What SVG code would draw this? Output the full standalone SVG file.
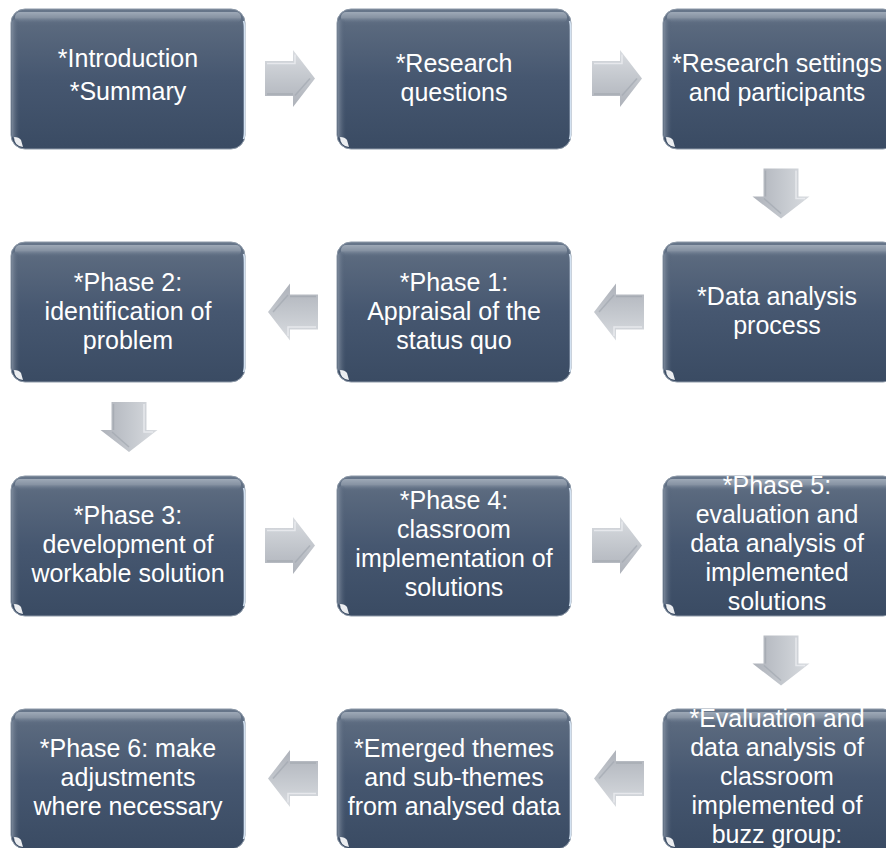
<svg xmlns="http://www.w3.org/2000/svg" xmlns:xlink="http://www.w3.org/1999/xlink" width="886" height="848" viewBox="0 0 886 848">
<defs>
<linearGradient id="boxGrad" x1="0" y1="0" x2="0" y2="1">
<stop offset="0" stop-color="#68778b"/>
<stop offset="0.12" stop-color="#5a697e"/>
<stop offset="0.5" stop-color="#465770"/>
<stop offset="1" stop-color="#3a4b63"/>
</linearGradient>
<linearGradient id="bevelTop" x1="0" y1="0" x2="0" y2="1">
<stop offset="0" stop-color="#9ea9b7"/>
<stop offset="0.5" stop-color="#8793a3"/>
<stop offset="1" stop-color="#66758a" stop-opacity="0"/>
</linearGradient>
<linearGradient id="bevelLeft" x1="0" y1="0" x2="1" y2="0">
<stop offset="0" stop-color="#7d8a9c" stop-opacity="0.9"/>
<stop offset="1" stop-color="#4d5d74" stop-opacity="0"/>
</linearGradient>
<linearGradient id="arrowGrad" gradientUnits="userSpaceOnUse" x1="0" y1="-28" x2="0" y2="28">
<stop offset="0" stop-color="#d9dce0"/>
<stop offset="0.5" stop-color="#c3c7cd"/>
<stop offset="1" stop-color="#aeb2ba"/>
</linearGradient>
<g id="box">
<rect x="0" y="0" width="234" height="140" rx="14" ry="14" fill="url(#boxGrad)" stroke="#8d99a8" stroke-width="1"/>
<rect x="4" y="3" width="226" height="11" rx="5" fill="url(#bevelTop)"/>
<rect x="1" y="10" width="8" height="120" rx="4" fill="url(#bevelLeft)"/>
<path d="M232.5,12 Q233.5,14 233.5,20 V122 Q233.5,128 232.5,130" fill="none" stroke="#d3e2f2" stroke-width="1.6"/>
<path d="M3,128 Q3,137 12,138 L10,131 Q8,128 3,128 Z" fill="#ffffff" opacity="0.9"/>
</g>
<g id="arrow">
<path d="M-25,-17.5 H3 V-28.5 L25,0 L3,28.5 V17.5 H-25 Z" fill="url(#arrowGrad)"/>
<path d="M-23,-15 H5 V-24" fill="none" stroke="#eceef1" stroke-width="1.5" opacity="0.8"/>
<path d="M5,17 L20,0" fill="none" stroke="#a3a8b1" stroke-width="1.5" opacity="0.7"/>
<path d="M-23,15.5 H3" fill="none" stroke="#a0a5ae" stroke-width="1.5" opacity="0.7"/>
</g>
</defs>
<style>
text { font-family: "Liberation Sans", Arial, sans-serif; font-size: 25px; fill: #ffffff; text-anchor: middle; }
</style>
<rect width="886" height="848" fill="#ffffff"/>

<g id="connectors">
<use xlink:href="#arrow" href="#arrow" transform="translate(290,78.5)"/>
<use xlink:href="#arrow" href="#arrow" transform="translate(617,78.5)"/>
<use xlink:href="#arrow" href="#arrow" transform="translate(781,193.5) rotate(90)"/>
<use xlink:href="#arrow" href="#arrow" transform="translate(619,312) rotate(180)"/>
<use xlink:href="#arrow" href="#arrow" transform="translate(293,312) rotate(180)"/>
<use xlink:href="#arrow" href="#arrow" transform="translate(129,427) rotate(90)"/>
<use xlink:href="#arrow" href="#arrow" transform="translate(290,545.5)"/>
<use xlink:href="#arrow" href="#arrow" transform="translate(617,545.5)"/>
<use xlink:href="#arrow" href="#arrow" transform="translate(781,660.5) rotate(90)"/>
<use xlink:href="#arrow" href="#arrow" transform="translate(619,778.5) rotate(180)"/>
<use xlink:href="#arrow" href="#arrow" transform="translate(293,778.5) rotate(180)"/>
</g>

<g id="node1">
<use xlink:href="#box" href="#box" transform="translate(11,9)"/>
<text x="128" y="67">*Introduction</text>
<text x="128" y="100">*Summary</text>
</g>
<g id="node2">
<use xlink:href="#box" href="#box" transform="translate(337,9)"/>
<text x="454" y="72">*Research</text>
<text x="454" y="101">questions</text>
</g>
<g id="node3">
<use xlink:href="#box" href="#box" transform="translate(663,9)"/>
<text x="777" y="72">*Research settings</text>
<text x="777" y="101">and participants</text>
</g>
<g id="node4">
<use xlink:href="#box" href="#box" transform="translate(11,242)"/>
<text x="128" y="291">*Phase 2:</text>
<text x="128" y="320">identification of</text>
<text x="128" y="349">problem</text>
</g>
<g id="node5">
<use xlink:href="#box" href="#box" transform="translate(337,242)"/>
<text x="454" y="291">*Phase 1:</text>
<text x="454" y="320">Appraisal of the</text>
<text x="454" y="349">status quo</text>
</g>
<g id="node6">
<use xlink:href="#box" href="#box" transform="translate(663,242)"/>
<text x="777" y="305">*Data analysis</text>
<text x="777" y="334">process</text>
</g>
<g id="node7">
<use xlink:href="#box" href="#box" transform="translate(11,476)"/>
<text x="128" y="524">*Phase 3:</text>
<text x="128" y="553">development of</text>
<text x="128" y="582">workable solution</text>
</g>
<g id="node8">
<use xlink:href="#box" href="#box" transform="translate(337,476)"/>
<text x="454" y="509">*Phase 4:</text>
<text x="454" y="538">classroom</text>
<text x="454" y="567">implementation of</text>
<text x="454" y="596">solutions</text>
</g>
<g id="node9">
<use xlink:href="#box" href="#box" transform="translate(663,476)"/>
<text x="777" y="494">*Phase 5:</text>
<text x="777" y="523">evaluation and</text>
<text x="777" y="552">data analysis of</text>
<text x="777" y="581">implemented</text>
<text x="777" y="610">solutions</text>
</g>
<g id="node10">
<use xlink:href="#box" href="#box" transform="translate(11,709)"/>
<text x="128" y="757">*Phase 6: make</text>
<text x="128" y="786">adjustments</text>
<text x="128" y="815">where necessary</text>
</g>
<g id="node11">
<use xlink:href="#box" href="#box" transform="translate(337,709)"/>
<text x="454" y="757">*Emerged themes</text>
<text x="454" y="786">and sub-themes</text>
<text x="454" y="815">from analysed data</text>
</g>
<g id="node12">
<use xlink:href="#box" href="#box" transform="translate(663,709)"/>
<text x="777" y="727">*Evaluation and</text>
<text x="777" y="756">data analysis of</text>
<text x="777" y="785">classroom</text>
<text x="777" y="814">implemented of</text>
<text x="777" y="843">buzz group:</text>
</g>
</svg>
